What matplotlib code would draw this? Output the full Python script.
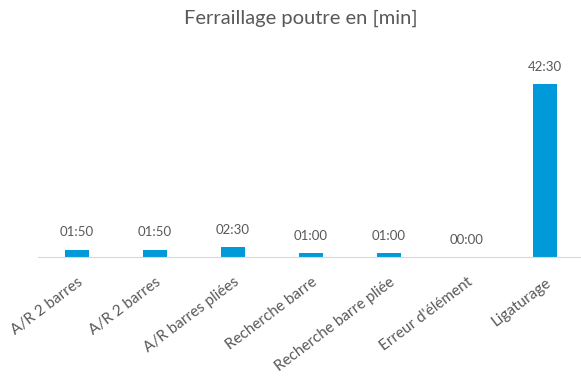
import matplotlib.pyplot as plt

plt.rcParams['font.family'] = ['Lato', 'DejaVu Sans']

# durées de ferraillage, en minutes
categories = ["A/R 2 barres", "A/R 2 barres", "A/R barres pliées", "Recherche barre",
              "Recherche barre pliée", "Erreur d'élément", "Ligaturage"]
minutes = [1 + 50 / 60, 1 + 50 / 60, 2.5, 1.0, 1.0, 0.0, 42.5]
labels = ["01:50", "01:50", "02:30", "01:00", "01:00", "00:00", "42:30"]

grey = "#595959"
blue = "#0099DA"

fig = plt.figure(figsize=(5.81, 3.80), dpi=100)
ax = fig.add_axes([38 / 581, 123 / 380, 546 / 581, 203.5 / 380])

x = range(len(categories))
bars = ax.bar(x, minutes, width=0.31, color=blue)
for b, lab in zip(bars, labels):
    ax.annotate(lab, (b.get_x() + b.get_width() / 2, b.get_height()),
                xytext=(0, 8), textcoords="offset points",
                ha="center", va="bottom", fontsize=9.5, color=grey)

ax.set_xlim(-0.5, len(categories) - 0.5)
ax.set_ylim(0, 50)
ax.set_xticks(list(x))
ax.set_xticklabels(categories, rotation=37, ha="right", rotation_mode="anchor",
                   fontsize=11, color=grey)
ax.tick_params(axis="x", length=0, pad=13)
ax.set_yticks([])
for s in ["top", "right", "left"]:
    ax.spines[s].set_visible(False)
ax.spines["bottom"].set_color("#D9D9D9")

fig.text(301 / 581, 1 - 18.5 / 380, "Ferraillage poutre en [min]", ha="center", va="center",
         fontsize=14.5, color=grey)

fig.savefig("out.png", dpi=100)
